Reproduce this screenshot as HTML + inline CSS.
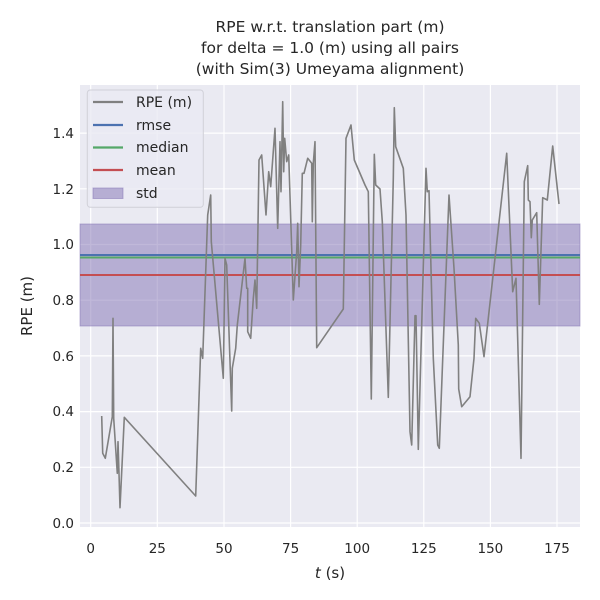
<!DOCTYPE html>
<html><head><style>body{margin:0;background:#fff}svg{display:block}</style></head><body>
<svg width="600" height="600" xmlns="http://www.w3.org/2000/svg" font-family="DejaVu Sans, Liberation Sans, sans-serif">
<rect x="80" y="85" width="500" height="442" fill="#eaeaf2"/>
<g stroke="#fff" stroke-width="1.2">
<line x1="90.7" y1="85" x2="90.7" y2="527"/><line x1="157.3" y1="85" x2="157.3" y2="527"/><line x1="224" y1="85" x2="224" y2="527"/><line x1="290.6" y1="85" x2="290.6" y2="527"/><line x1="357.2" y1="85" x2="357.2" y2="527"/><line x1="423.8" y1="85" x2="423.8" y2="527"/><line x1="490.4" y1="85" x2="490.4" y2="527"/><line x1="557" y1="85" x2="557" y2="527"/>
<line x1="80" y1="523" x2="580" y2="523"/><line x1="80" y1="467.3" x2="580" y2="467.3"/><line x1="80" y1="411.6" x2="580" y2="411.6"/><line x1="80" y1="355.9" x2="580" y2="355.9"/><line x1="80" y1="300.2" x2="580" y2="300.2"/><line x1="80" y1="244.5" x2="580" y2="244.5"/><line x1="80" y1="188.8" x2="580" y2="188.8"/><line x1="80" y1="133.1" x2="580" y2="133.1"/>
</g>
<rect x="80" y="224" width="500" height="102" fill="#8172b3" fill-opacity="0.5" stroke="#8172b3" stroke-opacity="0.5"/>
<line x1="80" y1="255" x2="580" y2="255" stroke="#4c72b0" stroke-width="2"/>
<line x1="80" y1="257.5" x2="580" y2="257.5" stroke="#55a868" stroke-width="2"/>
<line x1="80" y1="275" x2="580" y2="275" stroke="#c44e52" stroke-width="2"/>
<polyline fill="none" stroke="#808080" stroke-width="1.6" stroke-linejoin="round" points="101.7,416 102.7,453.3 105.3,458.3 112.3,416.7 113,318.3 113.7,418.3 117.3,473.3 118,441.7 119,473.3 120,507.7 124.3,417.3 195.7,496 200.7,348.3 202.7,358.3 207.7,215 210.7,195 211.3,241.7 223.3,378.3 225,258.3 226.7,265 231.7,411 232.3,368.3 235.7,348.3 237.3,325 245,258.3 246.7,288.3 247.7,288.3 247.7,331.7 250.7,338.3 253.3,298.3 255,280 256.7,308.3 259,160 261.7,155 266,215 268.7,171.7 270.7,186.7 275,128.3 277.7,228.3 280,141.7 281,191.7 282.7,101.7 283.7,171.7 284.7,138.3 286.7,161.7 288.7,155 293.3,300 296.7,251.7 297.7,223.3 299,286.7 300.7,245 302.3,173.3 304,173.3 307.7,158.3 311.7,163.3 312.3,221.7 313.3,163.3 315,141.7 316.7,347.7 330,328.3 343.3,309 346,138.3 351,125 354.3,160 365,185 368.3,191.7 371.3,399 374.3,154.3 375.7,185 380,189 382.3,221.7 388.3,397.3 393.3,178.3 394.3,107.7 395.7,146.7 403.3,168.3 406,215 410,431.7 411.7,445 415,315.7 416,315.7 418.3,449.3 426,168.3 427.3,191.7 429,190.7 433.3,358.3 437.7,445 439.3,448.3 449,195 454,268.3 458.3,345 458.7,389 461.7,406.7 470,396.7 474,358.3 475.7,318.3 479.3,323.3 484,356.7 506.7,153.3 512.7,291.7 516,278.3 521,458.3 524.3,181.7 527.7,165.7 528.3,200 530,201.7 531.3,237.7 532.3,220 536.7,212.7 539.3,304.3 542.7,197.7 547.3,200 552.7,146 559,204"/>
<rect x="87.3" y="90" width="116" height="117.3" rx="3" fill="#eaeaf2" fill-opacity="0.8" stroke="#d0d0d8"/>
<g stroke-width="2.2"><line x1="93" y1="102" x2="123" y2="102" stroke="#808080"/><line x1="93" y1="125" x2="123" y2="125" stroke="#4c72b0"/><line x1="93" y1="147.5" x2="123" y2="147.5" stroke="#55a868"/><line x1="93" y1="170" x2="123" y2="170" stroke="#c44e52"/></g>
<rect x="93" y="188" width="30" height="10.5" fill="#8172b3" fill-opacity="0.5" stroke="#8172b3" stroke-opacity="0.5"/>
<g font-size="14" fill="#262626"><text x="136" y="107">RPE (m)</text><text x="136" y="130">rmse</text><text x="136" y="152">median</text><text x="136" y="175">mean</text><text x="136" y="198">std</text></g>
<g font-size="13.5" fill="#262626" text-anchor="middle"><text x="90.7" y="553">0</text><text x="157.3" y="553">25</text><text x="224" y="553">50</text><text x="290.6" y="553">75</text><text x="357.2" y="553">100</text><text x="423.8" y="553">125</text><text x="490.4" y="553">150</text><text x="557" y="553">175</text></g>
<g font-size="13.5" fill="#262626" text-anchor="end"><text x="74" y="528">0.0</text><text x="74" y="472">0.2</text><text x="74" y="416">0.4</text><text x="74" y="361">0.6</text><text x="74" y="305">0.8</text><text x="74" y="249">1.0</text><text x="74" y="194">1.2</text><text x="74" y="138">1.4</text></g>
<text x="330" y="578" font-size="15" fill="#262626" text-anchor="middle"><tspan font-style="italic">t</tspan> (s)</text>
<text x="32" y="306" font-size="15" fill="#262626" text-anchor="middle" transform="rotate(-90 32 306)">RPE (m)</text>
<g font-size="15.5" fill="#262626" text-anchor="middle"><text x="330" y="32">RPE w.r.t. translation part (m)</text><text x="330" y="53">for delta = 1.0 (m) using all pairs</text><text x="330" y="74">(with Sim(3) Umeyama alignment)</text></g>
</svg>
</body></html>
